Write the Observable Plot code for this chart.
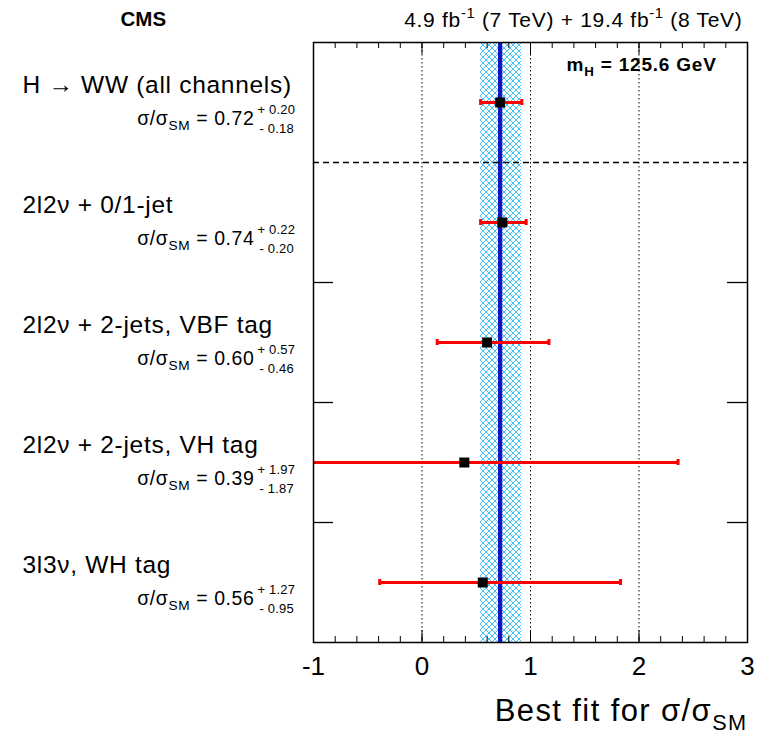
<!DOCTYPE html>
<html>
<head>
<meta charset="utf-8">
<script src="https://cdn.jsdelivr.net/npm/d3@7"></script>
<script src="https://cdn.jsdelivr.net/npm/@observablehq/plot@0.6"></script>
<style>
  html, body { margin: 0; padding: 0; background: #fff; }
  #chart svg { display: block; font-family: "Liberation Sans", Arial, Helvetica, sans-serif; }
</style>
</head>
<body>
<div id="chart"></div>
<script>
// ---- data ----
const channels = [
  "H → WW (all channels)",
  "2l2ν + 0/1-jet",
  "2l2ν + 2-jets, VBF tag",
  "2l2ν + 2-jets, VH tag",
  "3l3ν, WH tag"
];
const muValues = [0.72, 0.74, 0.60, 0.39, 0.56];
const errUp    = [0.20, 0.22, 0.57, 1.97, 1.27];
const errDown  = [0.18, 0.20, 0.46, 1.87, 0.95];
const combinedMu = 0.72;
const combinedUp = 0.20;
const combinedDown = 0.18;
const xTicks = [-1, 0, 1, 2, 3];
const gridLines = [0, 1, 2];
const separatorRows = [1];
const rowBoundaryTicks = [2, 3, 4];
const headerLeft = "CMS";
const headerRight = "4.9 fb^{-1} (7 TeV) + 19.4 fb^{-1} (8 TeV)";
const massLabel = "m_{H} = 125.6 GeV";
const xTitle = "Best fit for σ/σ_{SM}";

// ---- layout ----
const W = 769, H = 736;
const mL = 313, mR = 22, mT = 42, mB = 94;
const nRows = channels.length;
const pxPerRow = (H - mT - mB) / nRows;
const pxPerX = (W - mL - mR) / (xTicks[xTicks.length - 1] - xTicks[0]);
const xMin = xTicks[0], xMax = xTicks[xTicks.length - 1];

const rows = channels.map((c, i) => ({
  label: c,
  y: i + 0.5,
  mu: muValues[i],
  lo: muValues[i] - errDown[i],
  hi: muValues[i] + errUp[i],
  main: `σ/σ_{SM} = ${muValues[i].toFixed(2)}`,
  sup: `+ ${errUp[i].toFixed(2)}`,
  sub: `- ${errDown[i].toFixed(2)}`
}));

const minorTicks = d3.range(xMin * 5, xMax * 5 + 1).map(v => v / 5).filter(v => v > xMin && v < xMax);
const majorTicks = xTicks.filter(v => v > xMin && v < xMax);
const minorLen = 6 / pxPerRow, majorLen = 12 / pxPerRow;
const capHalf = 3 / pxPerRow;
const sideTickLen = 20 / pxPerX;

const font = 'Liberation Sans, Arial, Helvetica, sans-serif';

const chart = Plot.plot({
  width: W,
  height: H,
  marginLeft: mL, marginRight: mR, marginTop: mT, marginBottom: mB,
  style: { fontFamily: font, background: "white", overflow: "visible" },
  x: { domain: [xMin, xMax], axis: null },
  y: { domain: [0, nRows], reverse: true, axis: null },
  marks: [
    // uncertainty band of combined fit
    Plot.rect([{x1: combinedMu - combinedDown, x2: combinedMu + combinedUp}], {x1: "x1", x2: "x2", fill: "url(#xhatch)"}),
    // dotted grid
    Plot.ruleX(gridLines, {stroke: "black", strokeWidth: 1, strokeDasharray: "1.5,2.5"}),
    // combined value
    Plot.ruleX([combinedMu], {stroke: "#1515c0", strokeWidth: 4.3}),
    // separator
    Plot.ruleY(separatorRows, {stroke: "black", strokeWidth: 1.3, strokeDasharray: "6,4"}),
    // error bars
    Plot.ruleY(rows, {y: "y", x1: "lo", x2: "hi", stroke: "#ff0000", strokeWidth: 3, clip: true}),
    Plot.ruleX(rows, {x: "lo", y1: d => d.y - capHalf, y2: d => d.y + capHalf, stroke: "#ff0000", strokeWidth: 3, clip: true}),
    Plot.ruleX(rows, {x: "hi", y1: d => d.y - capHalf, y2: d => d.y + capHalf, stroke: "#ff0000", strokeWidth: 3, clip: true}),
    // markers
    Plot.dot(rows, {x: "mu", y: "y", symbol: "square", r: 10 / Math.sqrt(Math.PI), fill: "black", stroke: "none"}),
    // frame ticks
    Plot.ruleX(minorTicks, {y1: nRows, y2: nRows - minorLen, stroke: "black", strokeWidth: 1}),
    Plot.ruleX(minorTicks, {y1: 0, y2: minorLen, stroke: "black", strokeWidth: 1}),
    Plot.ruleX(majorTicks, {y1: nRows, y2: nRows - majorLen, stroke: "black", strokeWidth: 1}),
    Plot.ruleX(majorTicks, {y1: 0, y2: majorLen, stroke: "black", strokeWidth: 1}),
    Plot.ruleY(rowBoundaryTicks, {x1: xMin, x2: xMin + sideTickLen, stroke: "black", strokeWidth: 1.3}),
    Plot.ruleY(rowBoundaryTicks, {x1: xMax - sideTickLen, x2: xMax, stroke: "black", strokeWidth: 1.3}),
    Plot.frame({stroke: "black", strokeWidth: 1.5}),
    // x tick labels
    Plot.text(xTicks, {x: d => d, text: d => String(d), frameAnchor: "bottom", lineAnchor: "bottom", dy: 32, fontSize: 26, fill: "black"}),
    // x title
    Plot.text([xTitle], {text: d => d, frameAnchor: "bottom-right", textAnchor: "end", lineAnchor: "bottom", dy: 78, fontSize: 31, fill: "black", ariaDescription: "ls1.4"}),
    // row labels
    Plot.text(rows, {y: "y", text: "label", frameAnchor: "left", textAnchor: "start", lineAnchor: "bottom", dx: 22 - mL, dy: -10, fontSize: 24.5, fill: "black", ariaDescription: "ls0.7"}),
    Plot.text(rows, {y: "y", text: "main", frameAnchor: "left", textAnchor: "end", lineAnchor: "bottom", dx: 254 - mL, dy: 22, fontSize: 19.5, fill: "black", ariaDescription: "ls0.6"}),
    Plot.text(rows, {y: "y", text: "sup", frameAnchor: "left", textAnchor: "start", lineAnchor: "bottom", dx: 257 - mL, dy: 11, fontSize: 13, fill: "black", ariaDescription: "ls0.2"}),
    Plot.text(rows, {y: "y", text: "sub", frameAnchor: "left", textAnchor: "start", lineAnchor: "bottom", dx: 259 - mL, dy: 30, fontSize: 13, fill: "black", ariaDescription: "ls0.2"}),
    // header
    Plot.text([headerLeft], {text: d => d, frameAnchor: "top-left", textAnchor: "start", lineAnchor: "bottom", dx: 120 - mL, dy: -17, fontSize: 20.5, fontWeight: "bold", fill: "black"}),
    Plot.text([headerRight], {text: d => d, frameAnchor: "top-right", textAnchor: "end", lineAnchor: "bottom", dx: -5, dy: -16, fontSize: 21, fill: "black", ariaDescription: "ls0.7"}),
    Plot.text([massLabel], {text: d => d, frameAnchor: "top-left", textAnchor: "start", lineAnchor: "bottom", dx: 566 - mL, dy: 28, fontSize: 19, fontWeight: "bold", fill: "black", ariaDescription: "ls0.8"})
  ]
});

// hatch pattern
const svgSel = d3.select(chart.tagName.toLowerCase() === "svg" ? chart : chart.querySelector("svg"));
const defs = svgSel.insert("defs", ":first-child");
const pat = defs.append("pattern").attr("id", "xhatch").attr("patternUnits", "userSpaceOnUse")
  .attr("width", 6).attr("height", 6);
pat.append("rect").attr("width", 6).attr("height", 6).attr("fill", "white");
pat.append("path").attr("d", "M0,0L6,6M6,0L0,6").attr("stroke", "#22b8f8").attr("stroke-width", 0.85).attr("fill", "none");

// letter spacing (wider Helvetica rendering of the original)
svgSel.selectAll("g[aria-description]").each(function() {
  const m = /^ls([\d.]+)$/.exec(this.getAttribute("aria-description"));
  if (m) d3.select(this).style("letter-spacing", m[1] + "px");
});

// rich text: _{...} subscript, ^{...} superscript
function richify(el) {
  const t = el.textContent;
  if (!/[_^]\{/.test(t)) return;
  const parts = [];
  const re = /([_^])\{([^}]*)\}/g;
  let last = 0, m;
  while ((m = re.exec(t))) {
    if (m.index > last) parts.push({type: "n", s: t.slice(last, m.index)});
    parts.push({type: m[1] === "_" ? "sub" : "sup", s: m[2]});
    last = re.lastIndex;
  }
  if (last < t.length) parts.push({type: "n", s: t.slice(last)});
  el.textContent = "";
  const sel = d3.select(el);
  let offset = 0; // in base em
  parts.forEach(p => {
    const ts = sel.append("tspan").text(p.s);
    if (p.type === "n") {
      if (offset !== 0) ts.attr("dy", (-offset) + "em");
      offset = 0;
    } else {
      const scale = 0.7;
      const target = p.type === "sub" ? 0.3 : -0.42;
      ts.attr("font-size", (scale * 100) + "%");
      ts.attr("dy", ((target - offset) / scale) + "em");
      offset = target;
    }
  });
}
svgSel.selectAll("text").each(function() { richify(this); });

document.getElementById("chart").appendChild(chart);
</script>
</body>
</html>
